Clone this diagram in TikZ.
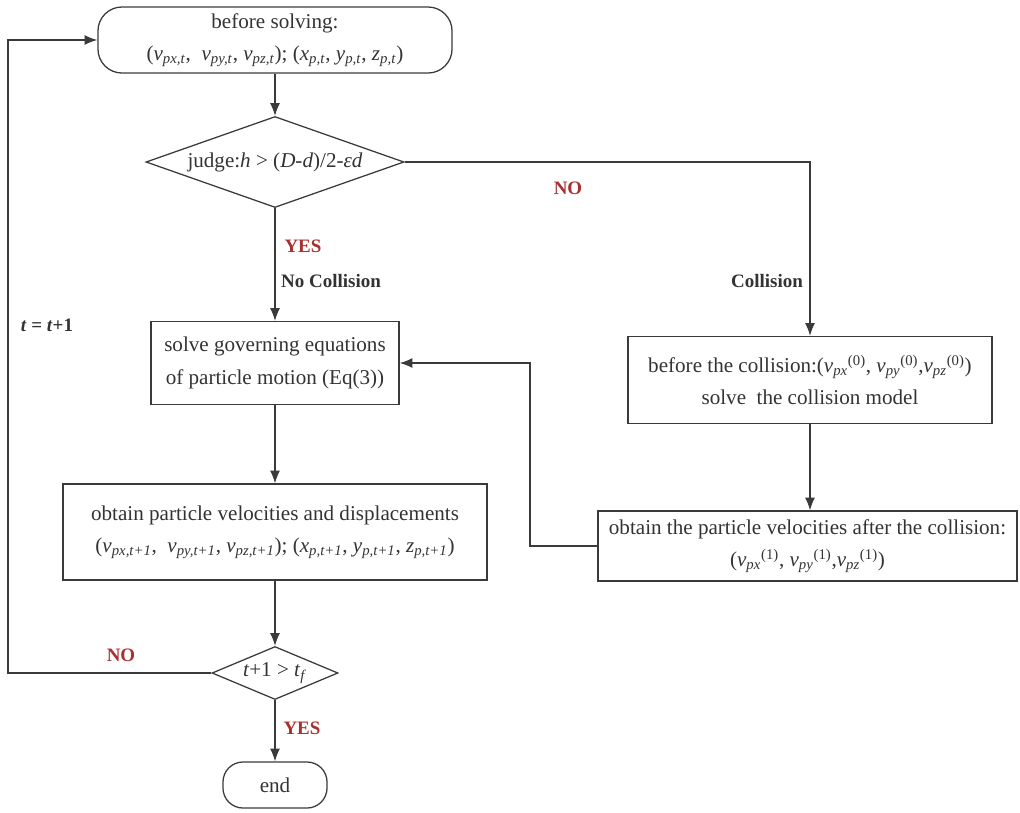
\documentclass[tikz,border=0pt]{standalone}
\usepackage{fontspec}
\setmainfont{Liberation Serif}
\usetikzlibrary{shapes.geometric,arrows.meta}
\definecolor{linegray}{HTML}{3A3A3A}
\definecolor{textgray}{HTML}{333333}
\definecolor{labelred}{HTML}{A8302F}
\newcommand{\iv}[2]{\textit{#1}\textsubscript{\textit{#2}}}
\begin{document}
\begin{tikzpicture}[x=0.025cm,y=-0.025cm]
\tikzstyle{every node}+=[inner sep=0pt, text=textgray, font=\fontsize{15}{23}\selectfont]
\tikzstyle{box}=[draw=linegray, line width=0.9pt, rectangle, align=center]
\tikzstyle{term}=[box, rounded corners=0.6cm]
\tikzstyle{judgebox}=[draw=linegray, line width=0.9pt, diamond, align=center]
\tikzstyle{conn}=[draw=linegray, line width=0.9pt, -{Latex[length=9pt,width=7pt]}]
\tikzstyle{lab}=[font=\fontsize{13.5}{16}\selectfont\bfseries]
\tikzstyle{redlab}=[lab, text=labelred]
\useasboundingbox (0,0) rectangle (1020,812);
\node [term, minimum width=8.85cm, minimum height=1.65cm] (start) at (275,40)
  {before solving:\\(\iv{v}{px,t},\ \ \iv{v}{py,t}, \iv{v}{pz,t}); (\iv{x}{p,t}, \iv{y}{p,t}, \iv{z}{p,t})};
\node [judgebox, minimum width=6.45cm, minimum height=2.275cm, aspect=2.84] (judge) at (275,162)
  {judge:\textit{h} > (\textit{D}-\textit{d})/2-\textit{εd}};
\node [box, minimum width=6.2cm, minimum height=2.075cm] (solve) at (275,363)
  {solve governing equations\\of particle motion (Eq(3))};
\node [box, minimum width=10.6cm, minimum height=2.4cm] (obtain) at (275,532)
  {obtain particle velocities and displacements\\(\iv{v}{px,t+1},\ \ \iv{v}{py,t+1}, \iv{v}{pz,t+1}); (\iv{x}{p,t+1}, \iv{y}{p,t+1}, \iv{z}{p,t+1})};
\node [judgebox, minimum width=3.15cm, minimum height=1.325cm, aspect=2.38] (check) at (275,673)
  {\textit{t}+1 > \iv{t}{f}};
\node [term, rounded corners=0.5cm, minimum width=2.6cm, minimum height=1.15cm] (finish) at (275,785) {end};
\node [box, minimum width=9.1cm, minimum height=2.175cm] (collide) at (810,380)
  {before the collision:(\iv{v}{px}\textsuperscript{(0)}, \iv{v}{py}\textsuperscript{(0)},\iv{v}{pz}\textsuperscript{(0)})\\solve\ \ the collision model};
\node [box, minimum width=10.475cm, minimum height=1.75cm] (after) at (807.5,546)
  {obtain the particle velocities after the collision:\\(\iv{v}{px}\textsuperscript{(1)}, \iv{v}{py}\textsuperscript{(1)},\iv{v}{pz}\textsuperscript{(1)})};
\coordinate (ret) at (530,546);
\coordinate (loop) at (8,673);
\draw [conn] (start) -- (judge);
\draw [conn] (judge.east) -| (collide.north);
\draw [conn] (judge) -- (solve);
\draw [conn] (solve) -- (obtain);
\draw [conn] (obtain) -- (check);
\draw [conn] (check) -- (finish);
\draw [conn] (collide.south) -- (collide.south |- after.north);
\draw [conn] (after.west) -- (ret) |- (solve.east);
\draw [conn] (check.west) -- (loop) |- (start.west);
\node [redlab] (no1) at (568,188) {NO};
\node [redlab] (yes1) at (303,246) {YES};
\node [lab] (nocol) at (331,281) {No Collision};
\node [lab] (col) at (767,281) {Collision};
\node [lab] (tnext) at (47,325) {\textit{t} = \textit{t}+1};
\node [redlab] (no2) at (121,655) {NO};
\node [redlab] (yes2) at (302,728) {YES};
\end{tikzpicture}
\end{document}
